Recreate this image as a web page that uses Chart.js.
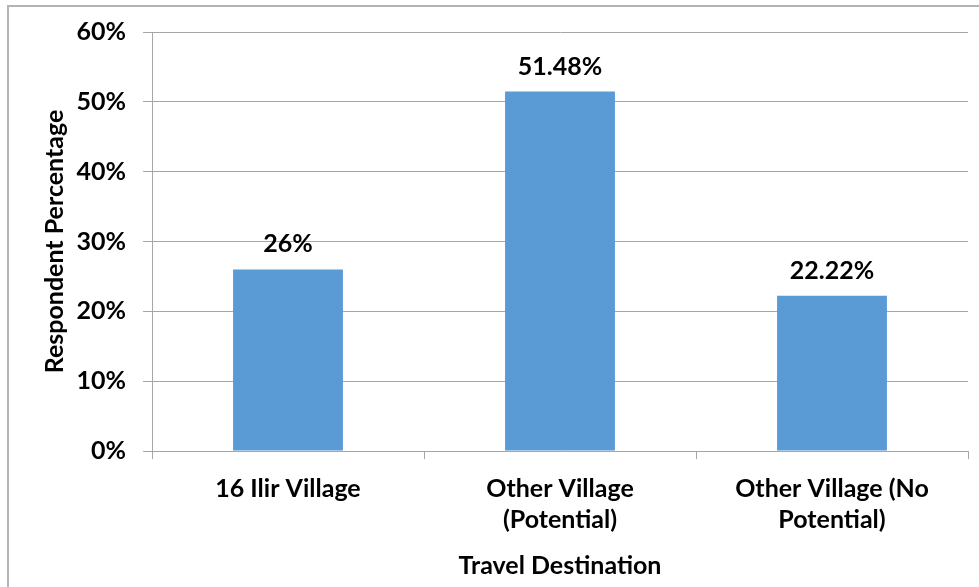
<!DOCTYPE html>
<html>
<head>
<meta charset="utf-8">
<style>
  html, body { margin: 0; padding: 0; background: #ffffff; }
  #wrap { width: 979px; height: 587px; position: relative; }
</style>
<script src="https://cdn.jsdelivr.net/npm/chart.js@4/dist/chart.umd.min.js"></script>
</head>
<body>
<div id="wrap"><canvas id="chart" width="979" height="587"></canvas></div>
<script>
// Travel destination of respondents (percent)
const categories = [
  ['16 Ilir Village'],
  ['Other Village', '(Potential)'],
  ['Other Village (No', 'Potential)']
];
const percentages = [26, 51.48, 22.22];
const yTicks = [0, 10, 20, 30, 40, 50, 60];

const FONT = 'Lato, "Open Sans", "DejaVu Sans", sans-serif';
const FSIZE = 25;
const GRID = '#a6a6a6';

// Outer frame of the chart object
const framePlugin = {
  id: 'frame',
  beforeDraw(chart) {
    const ctx = chart.ctx;
    ctx.save();
    ctx.fillStyle = '#ffffff';
    ctx.fillRect(0, 0, chart.width, chart.height);
    ctx.strokeStyle = '#b3b3b3';
    ctx.lineWidth = 2;
    ctx.strokeRect(8, 6, chart.width + 20, chart.height + 20);
    ctx.restore();
  }
};

// Value labels above each bar
const valueLabels = {
  id: 'valueLabels',
  afterDatasetsDraw(chart) {
    const ctx = chart.ctx;
    const meta = chart.getDatasetMeta(0);
    ctx.save();
    ctx.font = 'bold ' + FSIZE + 'px ' + FONT;
    ctx.fillStyle = '#000000';
    ctx.textAlign = 'center';
    ctx.textBaseline = 'middle';
    meta.data.forEach((bar, i) => {
      ctx.fillText(percentages[i] + '%', bar.x, bar.y - 25);
    });
    ctx.restore();
  }
};

new Chart(document.getElementById('chart'), {
  type: 'bar',
  data: {
    labels: categories,
    datasets: [{
      data: percentages,
      backgroundColor: '#5b9bd5',
      borderWidth: 0,
      categoryPercentage: 1,
      barPercentage: 0.404
    }]
  },
  options: {
    responsive: false,
    animation: false,
    devicePixelRatio: 1,
    layout: { padding: { top: 31, right: 11, bottom: 6, left: 30 } },
    plugins: {
      legend: { display: false },
      tooltip: { enabled: false }
    },
    scales: {
      x: {
        offset: true,
        grid: {
          display: true,
          drawOnChartArea: false,
          drawTicks: true,
          tickLength: 8,
          color: GRID,
          offset: true
        },
        border: { display: true, color: GRID, width: 1 },
        ticks: {
          color: '#000000',
          font: { family: FONT, size: FSIZE, weight: 'bold', lineHeight: 1.25 },
          padding: 14,
          maxRotation: 0,
          autoSkip: false
        },
        title: {
          display: true,
          text: 'Travel Destination',
          color: '#000000',
          font: { family: FONT, size: FSIZE, weight: 'bold' },
          padding: { top: 6, bottom: 0 }
        },
        afterFit(scale) { scale.height = 130; }
      },
      y: {
        min: 0,
        max: 60,
        afterBuildTicks(scale) {
          scale.ticks = yTicks.map(v => ({ value: v }));
        },
        grid: {
          color: GRID,
          drawTicks: true,
          tickLength: 9,
          lineWidth: 1
        },
        border: { display: true, color: GRID, width: 1 },
        ticks: {
          color: '#000000',
          font: { family: FONT, size: FSIZE, weight: 'bold' },
          padding: 17,
          callback: v => v + '%'
        },
        title: {
          display: true,
          text: 'Respondent Percentage',
          color: '#000000',
          font: { family: FONT, size: FSIZE, weight: 'bold' },
          padding: { top: 10, bottom: 6 }
        },
        afterFit(scale) { scale.width = 122; }
      }
    }
  },
  plugins: [framePlugin, valueLabels]
});
</script>
</body>
</html>
